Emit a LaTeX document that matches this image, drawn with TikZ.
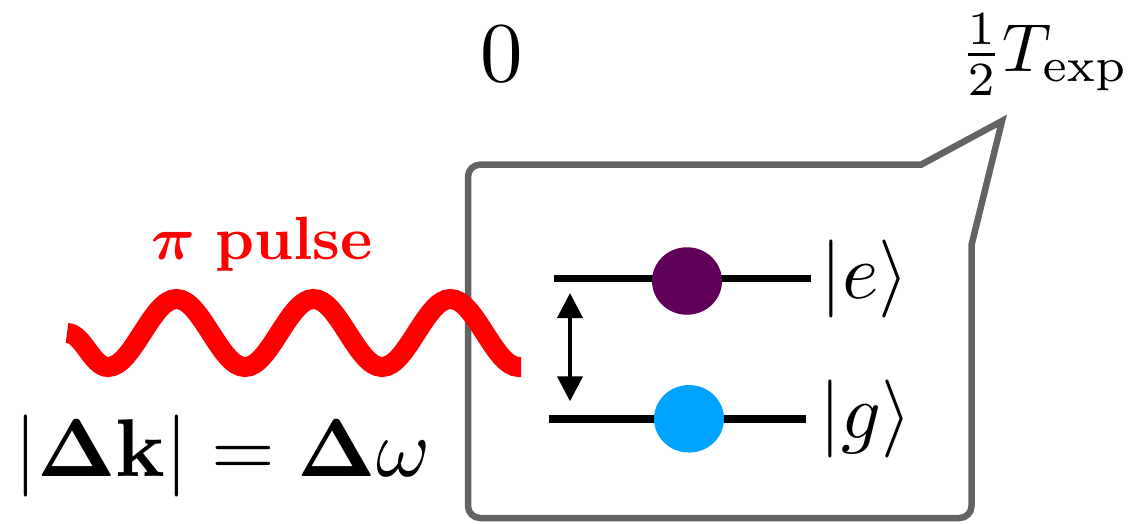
\documentclass[tikz,border=0pt]{standalone}
\usepackage{amsmath}
\usetikzlibrary{arrows.meta,shapes.geometric}
\definecolor{framegray}{RGB}{99,99,99}
\definecolor{excited}{RGB}{96,0,88}
\definecolor{ground}{RGB}{0,163,255}
\definecolor{pulsered}{RGB}{255,0,0}
\begin{document}
\begin{tikzpicture}[x=1pt,y=-1pt,
  frame/.style={draw=framegray,line width=6.5pt,line join=miter},
  level/.style={draw=black,line width=7.5pt},
  atom/.style={ellipse,inner sep=0pt,minimum width=70pt,minimum height=67.5pt},
  label/.style={inner sep=0pt,transform shape},
  transition/.style={line width=4pt,{Triangle[width=25pt,length=25pt]}-{Triangle[width=25pt,length=25pt]}}]
\useasboundingbox (0,0) rectangle (1138,523);

% time labels
\node[label,scale=8.5,anchor=base] (tzero) at (501.5,81.5) {$0$};
\node[label,scale=6.8,anchor=base west] (thalf) at (958,71.7) {$\frac{1}{2}T_{\mathrm{exp}}$};

% callout frame with tail pointing to the time label
\draw[frame] (468,340) [rounded corners=12pt] -- (468,164.7)
  [sharp corners] -- (921,164.7) -- (1002,121) -- (971.5,245)
  [rounded corners=12pt] -- (971.5,518) -- (468,518) -- cycle;

% the driving pulse
\node[label,scale=6.1,anchor=base west,text=pulsered] (plabel) at (150,259)
  {$\boldsymbol{\pi}$ \textbf{pulse}};
\draw[pulsered,line width=20pt]
  (67,333) .. controls (83,333) and (92,367) .. (108,367)
  cos (142.25,333) sin (176.5,299) cos (210.75,333) sin (245,367)
  cos (279.25,333) sin (313.5,299) cos (347.75,333) sin (382,367)
  cos (416.25,333) sin (450.5,299) cos (484.75,333) sin (519,367) -- (521,367);
\node[label,scale=8.2,anchor=base west] (cond) at (13,476.5)
  {$|\mathbf{\Delta k}| = \mathbf{\Delta}\omega$};

% two-level system
\coordinate (eL) at (554,278.3);
\coordinate (eR) at (811,278.3);
\coordinate (gL) at (549,419.2);
\coordinate (gR) at (805.7,419.2);
\draw[level] (eL) -- (eR);
\draw[level] (gL) -- (gR);
\node[atom,fill=excited] (ae) at (687,281) {};
\node[atom,fill=ground] (ag) at (689,418.8) {};
\coordinate (aT) at (570,293);
\coordinate (aB) at (570,401.3);
\draw[transition] (aT) -- (aB);
\node[label,scale=7.8,anchor=base west] (kete) at (819,298) {$|e\rangle$};
\node[label,scale=7.8,anchor=base west] (ketg) at (818,438) {$|g\rangle$};
\end{tikzpicture}
\end{document}
